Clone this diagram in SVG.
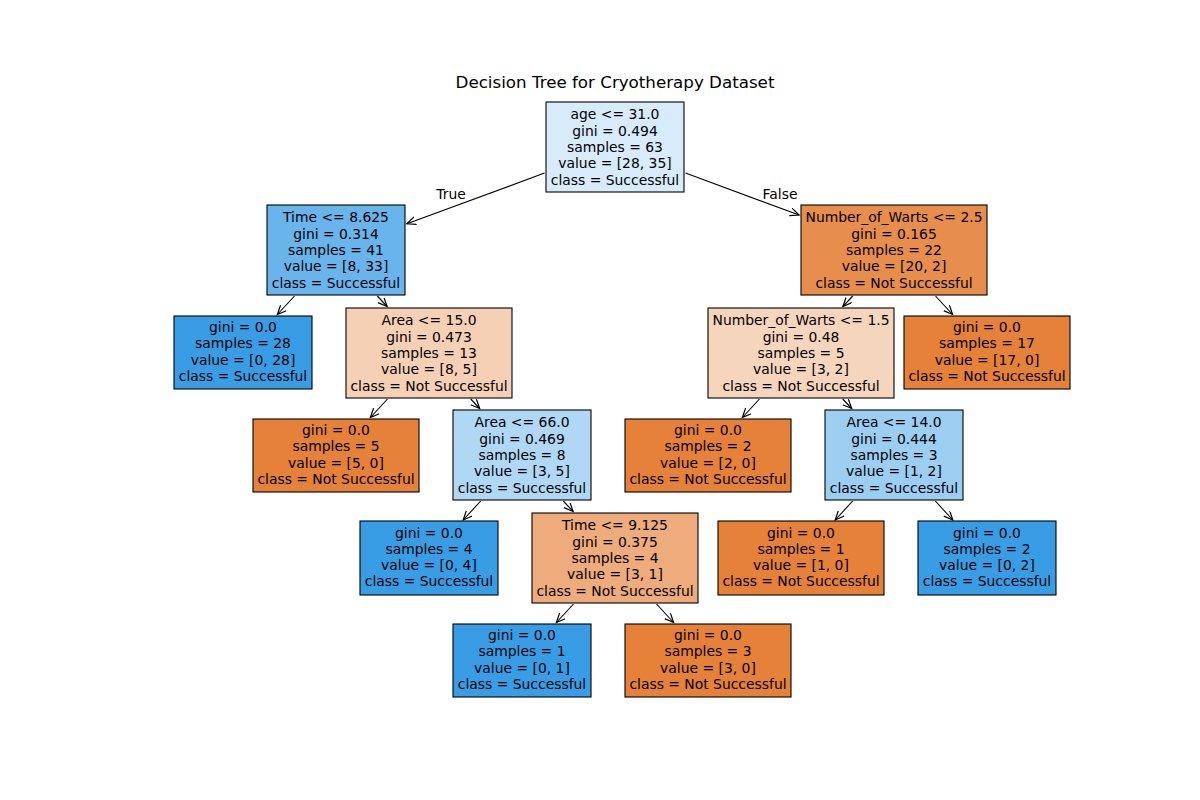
<svg xmlns="http://www.w3.org/2000/svg" width="1200" height="800" viewBox="0 0 1200 800">
<defs>
<marker id="ah" markerUnits="userSpaceOnUse" markerWidth="12" markerHeight="10" refX="9" refY="4" orient="auto">
<path d="M0,0 L9,4 L0,8" fill="none" stroke="#000" stroke-width="1.2"/>
</marker>
<style>
text{font-family:"DejaVu Sans",sans-serif;font-size:13.9px;fill:#000;text-anchor:middle}
.t{font-size:16.7px}
.n rect{stroke:#000;stroke-width:1.1}
.e line{stroke:#000;stroke-width:1.1;marker-end:url(#ah)}
</style>
</defs>
<rect x="0" y="0" width="1200" height="800" fill="#fff"/>
<text class="t" x="615" y="88">Decision Tree for Cryotherapy Dataset</text>

<g class="e" id="connectors">
<line x1="544.5" y1="173.1" x2="406.9" y2="223.8"/>
<line x1="685.5" y1="173.1" x2="799.1" y2="215.0"/>
<line x1="294.5" y1="296" x2="277.4" y2="314.5"/>
<line x1="377.3" y1="296" x2="387.1" y2="306.5"/>
<line x1="852.7" y1="296" x2="842.9" y2="306.5"/>
<line x1="935.5" y1="296" x2="952.6" y2="314.5"/>
<line x1="387.5" y1="399" x2="370.4" y2="417.5"/>
<line x1="470.7" y1="399" x2="479.7" y2="408.5"/>
<line x1="759.5" y1="399" x2="742.4" y2="417.5"/>
<line x1="842.7" y1="399" x2="851.7" y2="408.5"/>
<line x1="480.7" y1="501" x2="463.2" y2="520"/>
<line x1="563.3" y1="501" x2="573.1" y2="511.5"/>
<line x1="852.7" y1="501" x2="835.2" y2="520"/>
<line x1="935.3" y1="501" x2="952.8" y2="520"/>
<line x1="573.5" y1="604" x2="556.4" y2="622.5"/>
<line x1="656.5" y1="604" x2="673.6" y2="622.5"/>
</g>
<text x="451" y="199">True</text>
<text x="780" y="199">False</text>

<g class="n" id="n0"><rect x="546" y="102" width="138" height="90" fill="#d7ebfa"/>
<text x="615" y="119.4"><tspan x="615">age &lt;= 31.0</tspan><tspan x="615" dy="16.3">gini = 0.494</tspan><tspan x="615" dy="16.3">samples = 63</tspan><tspan x="615" dy="16.3">value = [28, 35]</tspan><tspan x="615" dy="16.3">class = Successful</tspan></text></g>

<g class="n" id="n1"><rect x="267" y="205" width="138" height="90" fill="#69b5eb"/>
<text x="336" y="222.4"><tspan x="336">Time &lt;= 8.625</tspan><tspan x="336" dy="16.3">gini = 0.314</tspan><tspan x="336" dy="16.3">samples = 41</tspan><tspan x="336" dy="16.3">value = [8, 33]</tspan><tspan x="336" dy="16.3">class = Successful</tspan></text></g>

<g class="n" id="n2"><rect x="801" y="205" width="186" height="90" fill="#e88e4d"/>
<text x="894" y="222.4"><tspan x="894">Number_of_Warts &lt;= 2.5</tspan><tspan x="894" dy="16.3">gini = 0.165</tspan><tspan x="894" dy="16.3">samples = 22</tspan><tspan x="894" dy="16.3">value = [20, 2]</tspan><tspan x="894" dy="16.3">class = Not Successful</tspan></text></g>

<g class="n" id="n3"><rect x="174" y="316" width="138" height="73" fill="#399de5"/>
<text x="243" y="332"><tspan x="243">gini = 0.0</tspan><tspan x="243" dy="16.3">samples = 28</tspan><tspan x="243" dy="16.3">value = [0, 28]</tspan><tspan x="243" dy="16.3">class = Successful</tspan></text></g>

<g class="n" id="n4"><rect x="346" y="308" width="166" height="90" fill="#f5d0b5"/>
<text x="429" y="325.4"><tspan x="429">Area &lt;= 15.0</tspan><tspan x="429" dy="16.3">gini = 0.473</tspan><tspan x="429" dy="16.3">samples = 13</tspan><tspan x="429" dy="16.3">value = [8, 5]</tspan><tspan x="429" dy="16.3">class = Not Successful</tspan></text></g>

<g class="n" id="n5"><rect x="708" y="308" width="186" height="90" fill="#f6d5bd"/>
<text x="801" y="325.4"><tspan x="801">Number_of_Warts &lt;= 1.5</tspan><tspan x="801" dy="16.3">gini = 0.48</tspan><tspan x="801" dy="16.3">samples = 5</tspan><tspan x="801" dy="16.3">value = [3, 2]</tspan><tspan x="801" dy="16.3">class = Not Successful</tspan></text></g>

<g class="n" id="n6"><rect x="904" y="316" width="166" height="73" fill="#e58139"/>
<text x="987" y="332"><tspan x="987">gini = 0.0</tspan><tspan x="987" dy="16.3">samples = 17</tspan><tspan x="987" dy="16.3">value = [17, 0]</tspan><tspan x="987" dy="16.3">class = Not Successful</tspan></text></g>

<g class="n" id="n7"><rect x="253" y="419" width="166" height="73" fill="#e58139"/>
<text x="336" y="435"><tspan x="336">gini = 0.0</tspan><tspan x="336" dy="16.3">samples = 5</tspan><tspan x="336" dy="16.3">value = [5, 0]</tspan><tspan x="336" dy="16.3">class = Not Successful</tspan></text></g>

<g class="n" id="n8"><rect x="453" y="410" width="138" height="90" fill="#b0d8f5"/>
<text x="522" y="427.4"><tspan x="522">Area &lt;= 66.0</tspan><tspan x="522" dy="16.3">gini = 0.469</tspan><tspan x="522" dy="16.3">samples = 8</tspan><tspan x="522" dy="16.3">value = [3, 5]</tspan><tspan x="522" dy="16.3">class = Successful</tspan></text></g>

<g class="n" id="n9"><rect x="625" y="419" width="166" height="73" fill="#e58139"/>
<text x="708" y="435"><tspan x="708">gini = 0.0</tspan><tspan x="708" dy="16.3">samples = 2</tspan><tspan x="708" dy="16.3">value = [2, 0]</tspan><tspan x="708" dy="16.3">class = Not Successful</tspan></text></g>

<g class="n" id="n10"><rect x="825" y="410" width="138" height="90" fill="#9ccef2"/>
<text x="894" y="427.4"><tspan x="894">Area &lt;= 14.0</tspan><tspan x="894" dy="16.3">gini = 0.444</tspan><tspan x="894" dy="16.3">samples = 3</tspan><tspan x="894" dy="16.3">value = [1, 2]</tspan><tspan x="894" dy="16.3">class = Successful</tspan></text></g>

<g class="n" id="n11"><rect x="360" y="521" width="138" height="74" fill="#399de5"/>
<text x="429" y="537.5"><tspan x="429">gini = 0.0</tspan><tspan x="429" dy="16.3">samples = 4</tspan><tspan x="429" dy="16.3">value = [0, 4]</tspan><tspan x="429" dy="16.3">class = Successful</tspan></text></g>

<g class="n" id="n12"><rect x="532" y="513" width="166" height="90" fill="#eeab7b"/>
<text x="615" y="530.4"><tspan x="615">Time &lt;= 9.125</tspan><tspan x="615" dy="16.3">gini = 0.375</tspan><tspan x="615" dy="16.3">samples = 4</tspan><tspan x="615" dy="16.3">value = [3, 1]</tspan><tspan x="615" dy="16.3">class = Not Successful</tspan></text></g>

<g class="n" id="n13"><rect x="718" y="521" width="166" height="74" fill="#e58139"/>
<text x="801" y="537.5"><tspan x="801">gini = 0.0</tspan><tspan x="801" dy="16.3">samples = 1</tspan><tspan x="801" dy="16.3">value = [1, 0]</tspan><tspan x="801" dy="16.3">class = Not Successful</tspan></text></g>

<g class="n" id="n14"><rect x="918" y="521" width="138" height="74" fill="#399de5"/>
<text x="987" y="537.5"><tspan x="987">gini = 0.0</tspan><tspan x="987" dy="16.3">samples = 2</tspan><tspan x="987" dy="16.3">value = [0, 2]</tspan><tspan x="987" dy="16.3">class = Successful</tspan></text></g>

<g class="n" id="n15"><rect x="453" y="624" width="138" height="73" fill="#399de5"/>
<text x="522" y="640"><tspan x="522">gini = 0.0</tspan><tspan x="522" dy="16.3">samples = 1</tspan><tspan x="522" dy="16.3">value = [0, 1]</tspan><tspan x="522" dy="16.3">class = Successful</tspan></text></g>

<g class="n" id="n16"><rect x="625" y="624" width="166" height="73" fill="#e58139"/>
<text x="708" y="640"><tspan x="708">gini = 0.0</tspan><tspan x="708" dy="16.3">samples = 3</tspan><tspan x="708" dy="16.3">value = [3, 0]</tspan><tspan x="708" dy="16.3">class = Not Successful</tspan></text></g>
</svg>
